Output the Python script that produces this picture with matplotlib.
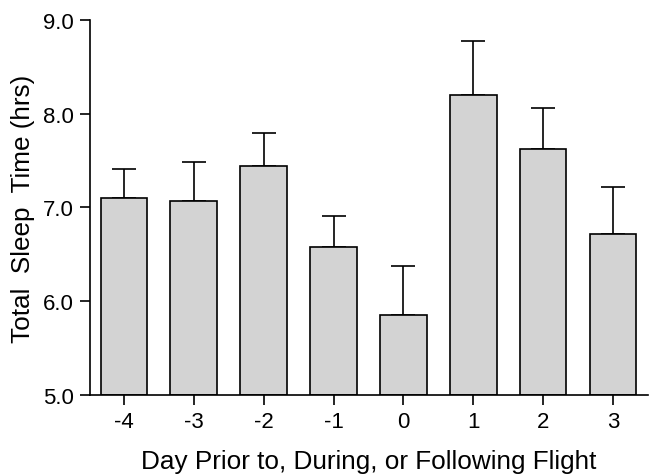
import numpy as np
import matplotlib.pyplot as plt

plt.rcParams['font.family'] = ['Liberation Sans', 'DejaVu Sans']

days = ["-4", "-3", "-2", "-1", "0", "1", "2", "3"]
sleep_hrs = [7.10, 7.07, 7.44, 6.58, 5.85, 8.20, 7.62, 6.72]
err_top = [7.41, 7.49, 7.79, 6.91, 6.38, 8.78, 8.06, 7.22]

x = np.arange(len(days))
err = np.array(err_top) - np.array(sleep_hrs)

fig = plt.figure(figsize=(6.54, 4.77), dpi=100)
ax = fig.add_axes([0.1376, 0.17, 0.853, 0.786])

ax.bar(x, np.array(sleep_hrs) - 5.0, bottom=5.0, width=0.67,
       color="#d3d3d3", edgecolor="black", linewidth=1.2, zorder=2)
ax.errorbar(x, sleep_hrs, yerr=[np.zeros_like(err), err], fmt="none",
            ecolor="black", elinewidth=1.2, capsize=8.6, capthick=1.2, zorder=1)

ax.set_xlim(-0.486, 7.5)
ax.set_ylim(5.0, 9.0)
ax.set_yticks([5, 6, 7, 8, 9])
ax.set_yticklabels(["5.0", "6.0", "7.0", "8.0", "9.0"])
ax.set_xticks(x)
ax.set_xticklabels(days)

for s in ["top", "right"]:
    ax.spines[s].set_visible(False)
for s in ["left", "bottom"]:
    ax.spines[s].set_linewidth(1.2)
ax.tick_params(direction="out", length=7.5, width=1.2, labelsize=16,
               colors="black", pad=4)

ax.set_xlabel("Day Prior to, During, or Following Flight", fontsize=18.8, labelpad=12)
ax.set_ylabel("Total  Sleep  Time (hrs)", fontsize=18.8, labelpad=6)

plt.savefig("out.png", dpi=100)
